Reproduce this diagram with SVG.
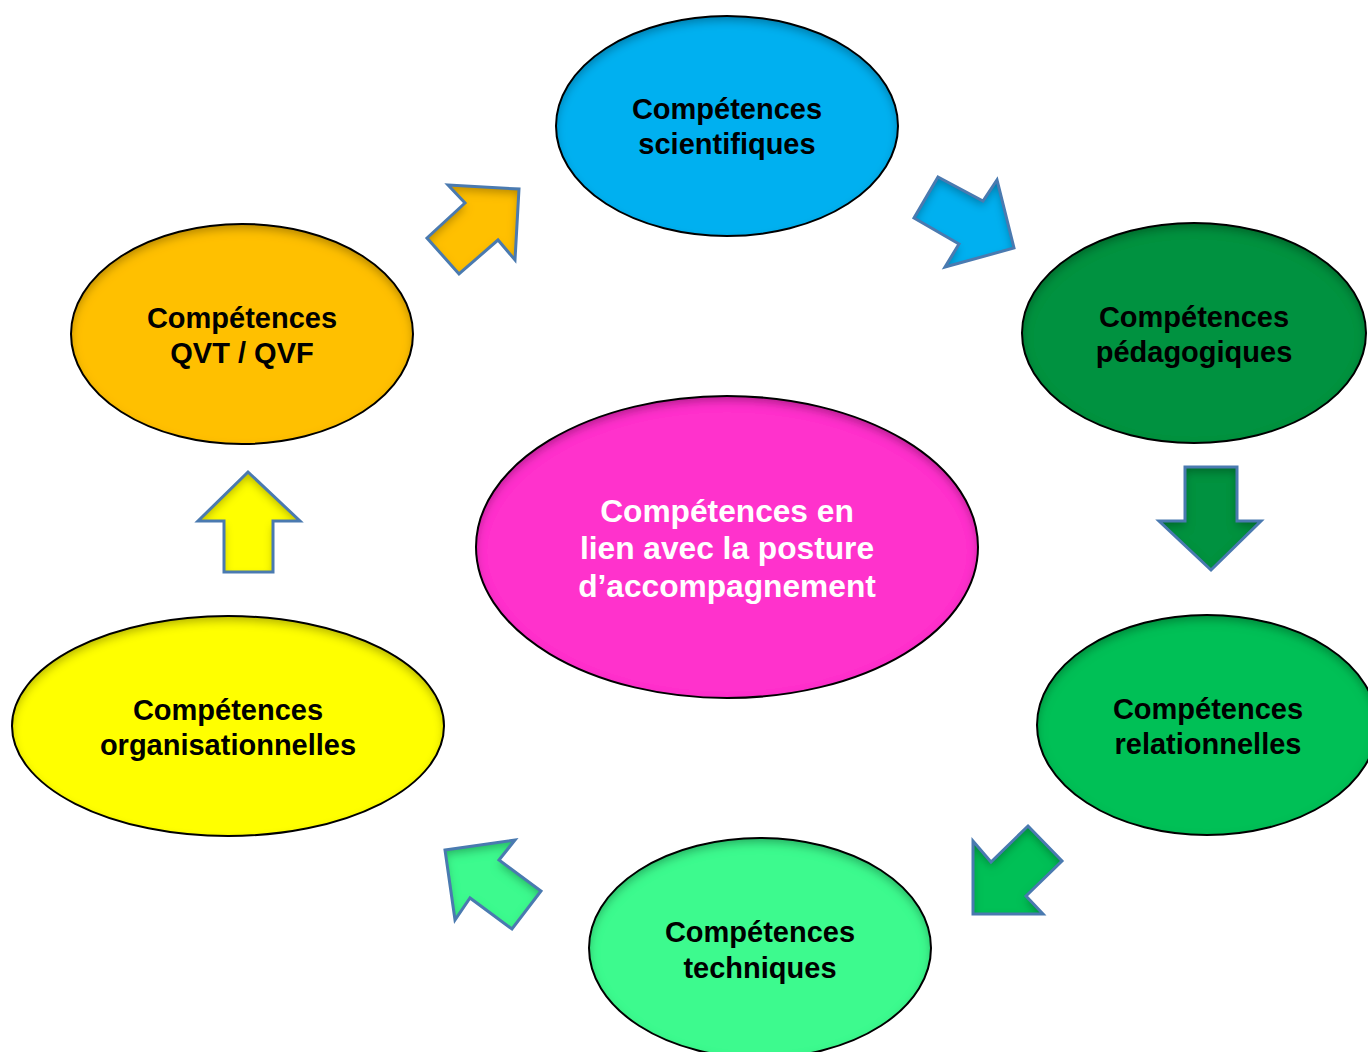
<svg xmlns="http://www.w3.org/2000/svg" width="1368" height="1052" viewBox="0 0 1368 1052">
<defs>
<filter id="inner" x="-10%" y="-10%" width="120%" height="120%">
<feComponentTransfer in="SourceAlpha"><feFuncA type="table" tableValues="1 0"/></feComponentTransfer>
<feGaussianBlur stdDeviation="5"/>
<feOffset dx="0" dy="5" result="ob"/>
<feFlood flood-color="#000" flood-opacity="0.55"/>
<feComposite in2="ob" operator="in"/>
<feComposite in2="SourceAlpha" operator="in" result="sh"/>
<feMerge><feMergeNode in="SourceGraphic"/><feMergeNode in="sh"/></feMerge>
</filter>
</defs>
<style>
.node-fill{filter:url(#inner);stroke:none}
.node-line{fill:none;stroke:#000;stroke-width:2}
.lbl{font-family:"Liberation Sans",Arial,sans-serif;font-weight:bold;font-size:29px;text-anchor:middle;fill:#000}
.lblc{font-family:"Liberation Sans",Arial,sans-serif;font-weight:bold;font-size:31.7px;text-anchor:middle;fill:#fff}
.arr{filter:url(#inner);stroke:none}
.arrl{fill:none;stroke:#4A7AB0;stroke-width:3;stroke-linejoin:miter}
</style>
<rect width="1368" height="1052" fill="#fff"/>

<g id="connectors">
<g id="arrow-qvt-sci">
<polygon class="arr" fill="#FFC000" points="448,185 519,189 515,260 498,240 459,274 427,238 465,203"/>
<polygon class="arrl" points="448,185 519,189 515,260 498,240 459,274 427,238 465,203"/>
</g>
<g id="arrow-sci-ped">
<polygon class="arr" fill="#00B0F0" points="938,177 983,201 997,180 1014,248 945,267 959,244 914,218"/>
<polygon class="arrl" points="938,177 983,201 997,180 1014,248 945,267 959,244 914,218"/>
</g>
<g id="arrow-ped-rel">
<polygon class="arr" fill="#00923F" points="1185,467 1237,467 1237,521 1261,521 1211,570 1159,521 1185,521"/>
<polygon class="arrl" points="1185,467 1237,467 1237,521 1261,521 1211,570 1159,521 1185,521"/>
</g>
<g id="arrow-rel-tech">
<polygon class="arr" fill="#00C057" points="1028,826 1062,861 1026,896 1043,914 973,914 973,841 991,862"/>
<polygon class="arrl" points="1028,826 1062,861 1026,896 1043,914 973,914 973,841 991,862"/>
</g>
<g id="arrow-tech-org">
<polygon class="arr" fill="#3CFA8E" points="445,850 515,840 499,860 541,891 512,929 470,898 455,920"/>
<polygon class="arrl" points="445,850 515,840 499,860 541,891 512,929 470,898 455,920"/>
</g>
<g id="arrow-org-qvt">
<polygon class="arr" fill="#FFFF00" points="248,472 300,521 273,521 273,572 224,572 224,521 198,521"/>
<polygon class="arrl" points="248,472 300,521 273,521 273,572 224,572 224,521 198,521"/>
</g>
</g>

<g id="node-scientifiques">
<ellipse class="node-fill" fill="#00B0F0" cx="727" cy="126" rx="171" ry="110"/>
<ellipse class="node-line" cx="727" cy="126" rx="171" ry="110"/>
<text class="lbl" x="727" y="119">Compétences</text>
<text class="lbl" x="727" y="154">scientifiques</text>
</g>

<g id="node-pedagogiques">
<ellipse class="node-fill" fill="#00923F" cx="1194" cy="333" rx="172" ry="110"/>
<ellipse class="node-line" cx="1194" cy="333" rx="172" ry="110"/>
<text class="lbl" x="1194" y="327">Compétences</text>
<text class="lbl" x="1194" y="362">pédagogiques</text>
</g>

<g id="node-relationnelles">
<ellipse class="node-fill" fill="#00C057" cx="1207" cy="725" rx="170" ry="110"/>
<ellipse class="node-line" cx="1207" cy="725" rx="170" ry="110"/>
<text class="lbl" x="1208" y="719">Compétences</text>
<text class="lbl" x="1208" y="754">relationnelles</text>
</g>

<g id="node-techniques">
<ellipse class="node-fill" fill="#3CFA8E" cx="760" cy="948" rx="171" ry="110"/>
<ellipse class="node-line" cx="760" cy="948" rx="171" ry="110"/>
<text class="lbl" x="760" y="942">Compétences</text>
<text class="lbl" x="760" y="978">techniques</text>
</g>

<g id="node-organisationnelles">
<ellipse class="node-fill" fill="#FFFF00" cx="228" cy="726" rx="216" ry="110"/>
<ellipse class="node-line" cx="228" cy="726" rx="216" ry="110"/>
<text class="lbl" x="228" y="720">Compétences</text>
<text class="lbl" x="228" y="755">organisationnelles</text>
</g>

<g id="node-qvt">
<ellipse class="node-fill" fill="#FFC000" cx="242" cy="334" rx="171" ry="110"/>
<ellipse class="node-line" cx="242" cy="334" rx="171" ry="110"/>
<text class="lbl" x="242" y="328">Compétences</text>
<text class="lbl" x="242" y="363">QVT / QVF</text>
</g>

<g id="node-posture">
<ellipse class="node-fill" fill="#FF33CC" cx="727" cy="547" rx="251" ry="151"/>
<ellipse class="node-line" cx="727" cy="547" rx="251" ry="151"/>
<text class="lblc" x="727" y="522">Compétences en</text>
<text class="lblc" x="727" y="559">lien avec la posture</text>
<text class="lblc" x="727" y="597">d’accompagnement</text>
</g>
</svg>
